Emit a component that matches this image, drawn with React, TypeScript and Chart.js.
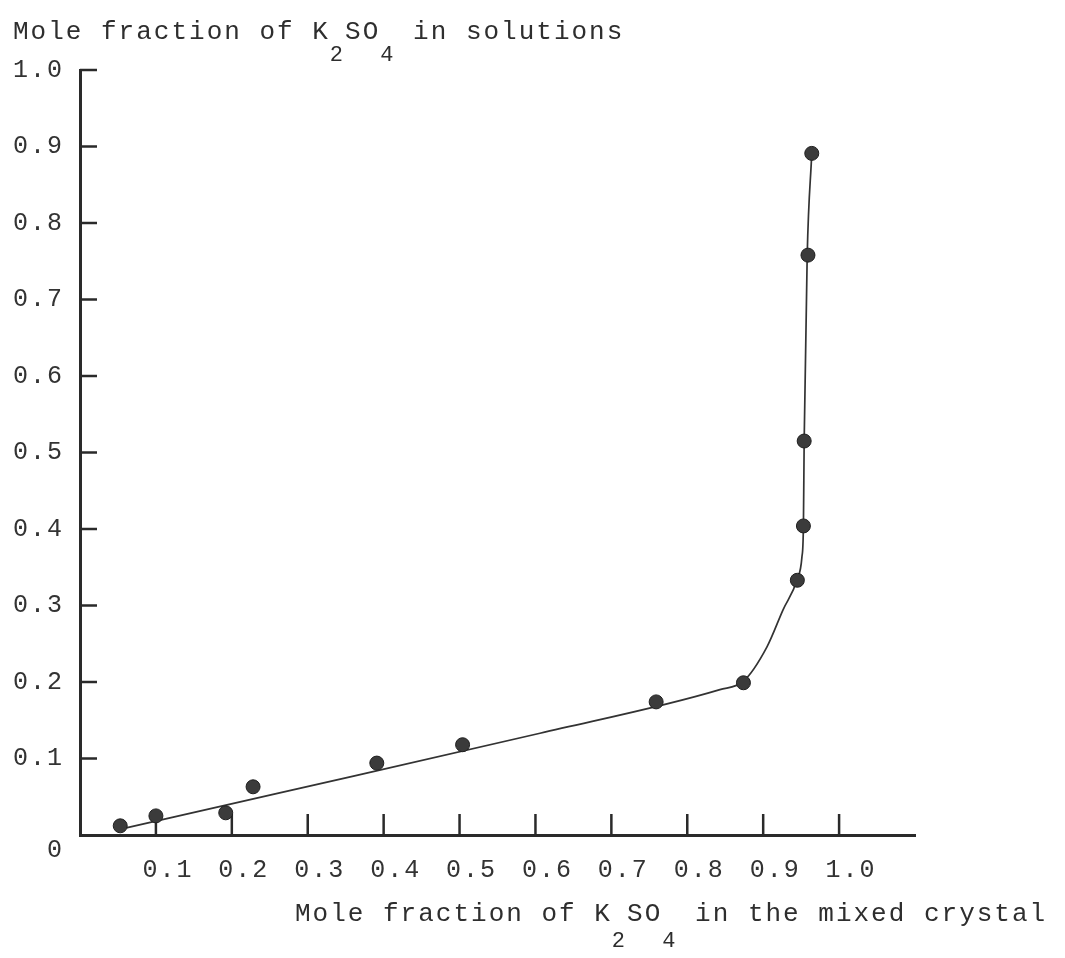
import React, { useEffect, useRef } from 'react';
import { Chart, registerables } from 'chart.js';

Chart.register(...registerables);

// Measured points: mole fraction of K2SO4 in the mixed crystal (x) vs in solution (y)
const crystalFraction = [0.053, 0.100, 0.192, 0.228, 0.391, 0.504, 0.759, 0.874, 0.945, 0.953, 0.954, 0.959, 0.964];
const solutionFraction = [0.012, 0.025, 0.029, 0.063, 0.094, 0.118, 0.174, 0.199, 0.333, 0.404, 0.515, 0.758, 0.891];

// Hand-drawn fitted curve
const curveCrystal = [0.055, 0.263, 0.606, 0.843, 0.874, 0.905, 0.926, 0.945, 0.951, 0.953, 0.954, 0.958, 0.964];
const curveSolution = [0.008, 0.055, 0.133, 0.190, 0.201, 0.246, 0.294, 0.335, 0.363, 0.404, 0.515, 0.758, 0.891];

const xTickValues = [0.1, 0.2, 0.3, 0.4, 0.5, 0.6, 0.7, 0.8, 0.9, 1.0];
const xTickLabels = ['0.1', '0.2', '0.3', '0.4', '0.5', '0.6', '0.7', '0.8', '0.9', '1.0'];
const yTickValues = [0, 0.1, 0.2, 0.3, 0.4, 0.5, 0.6, 0.7, 0.8, 0.9, 1.0];
const yTickLabels = ['0', '0.1', '0.2', '0.3', '0.4', '0.5', '0.6', '0.7', '0.8', '0.9', '1.0'];

const INK = '#2a2a2a';
const MONO = "'Liberation Mono', 'DejaVu Sans Mono', monospace";

const inwardTicks = {
  id: 'inwardTicks',
  beforeDraw(chart: any) {
    chart.ctx.letterSpacing = '2px';
  },
  beforeDatasetsDraw(chart: any) {
    const { ctx, chartArea, scales } = chart;
    ctx.save();
    ctx.strokeStyle = INK;
    ctx.lineWidth = 2.5;
    scales.x.ticks.forEach((t: any) => {
      if (t.value === 0) return;
      const px = scales.x.getPixelForValue(t.value);
      ctx.beginPath();
      ctx.moveTo(px, chartArea.bottom);
      ctx.lineTo(px, chartArea.bottom - 21);
      ctx.stroke();
    });
    scales.y.ticks.forEach((t: any) => {
      if (t.value === 0) return;
      const py = scales.y.getPixelForValue(t.value);
      ctx.beginPath();
      ctx.moveTo(chartArea.left, py);
      ctx.lineTo(chartArea.left + 17, py);
      ctx.stroke();
    });
    ctx.restore();
  },
};

function ScatterChart() {
  const ref = useRef<HTMLCanvasElement | null>(null);

  useEffect(() => {
    if (!ref.current) return;
    const points = crystalFraction.map((x, i) => ({ x, y: solutionFraction[i] }));
    const curve = curveCrystal.map((x, i) => ({ x, y: curveSolution[i] }));

    const chart = new Chart(ref.current, {
      type: 'scatter',
      data: {
        datasets: [
          {
            label: 'Measured',
            data: points,
            backgroundColor: '#3b3b3b',
            borderColor: '#1f1f1f',
            borderWidth: 1,
            pointRadius: 7,
            showLine: false,
          },
          {
            label: 'Curve',
            type: 'line',
            data: curve,
            borderColor: '#333333',
            borderWidth: 1.7,
            pointRadius: 0,
            fill: false,
            cubicInterpolationMode: 'monotone',
          } as any,
        ],
      },
      options: {
        responsive: false,
        animation: false,
        devicePixelRatio: 1,
        layout: { padding: { left: 0, top: 70, right: 150, bottom: 0 } },
        plugins: {
          legend: { display: false },
          tooltip: { enabled: false },
          title: { display: false },
        },
        scales: {
          x: {
            type: 'linear',
            min: 0,
            max: 1.1,
            grid: { display: false, drawTicks: false },
            border: { display: true, color: INK, width: 3 },
            afterBuildTicks: (s: any) => {
              s.ticks = xTickValues.map((v) => ({ value: v }));
            },
            afterFit: (s: any) => {
              s.height = 123;
            },
            ticks: {
              padding: 20,
              labelOffset: 12,
              maxRotation: 0,
              autoSkip: false,
              color: '#333333',
              font: { family: MONO, size: 25 },
              callback: (_v: any, i: number) => xTickLabels[i],
            },
          },
          y: {
            type: 'linear',
            min: 0,
            max: 1.0,
            grid: { display: false, drawTicks: false },
            border: { display: true, color: INK, width: 3 },
            afterBuildTicks: (s: any) => {
              s.ticks = yTickValues.map((v) => ({ value: v }));
            },
            afterFit: (s: any) => {
              s.width = 80;
            },
            ticks: {
              padding: 16,
              autoSkip: false,
              color: '#333333',
              font: { family: MONO, size: 25 },
              callback: (_v: any, i: number) => (i === 0 ? ['', yTickLabels[0]] : yTickLabels[i]),
            },
          },
        },
      },
      plugins: [inwardTicks],
    });
    return () => chart.destroy();
  }, []);

  return <canvas ref={ref} width={1065} height={958} style={{ display: 'block' }} />;
}

const titleStyle: React.CSSProperties = {
  position: 'absolute',
  fontFamily: MONO,
  fontSize: 26,
  lineHeight: '26px',
  letterSpacing: '2px',
  color: '#2e2e2e',
  whiteSpace: 'nowrap',
};
const sub: React.CSSProperties = { position: 'relative', top: 22, fontSize: 22 };

export default function App() {
  return (
    <div style={{ position: 'absolute', left: 0, top: 0, width: 1065, height: 958, overflow: 'hidden', background: '#fff' }}>
      <ScatterChart />
      <div style={{ ...titleStyle, left: 13, top: 19 }}>
        Mole fraction of K<span style={sub}>2</span>SO<span style={sub}>4</span> in solutions
      </div>
      <div style={{ ...titleStyle, left: 295, top: 901 }}>
        Mole fraction of K<span style={{ ...sub, top: 26 }}>2</span>SO<span style={{ ...sub, top: 26 }}>4</span> in the mixed crystal
      </div>
    </div>
  );
}
